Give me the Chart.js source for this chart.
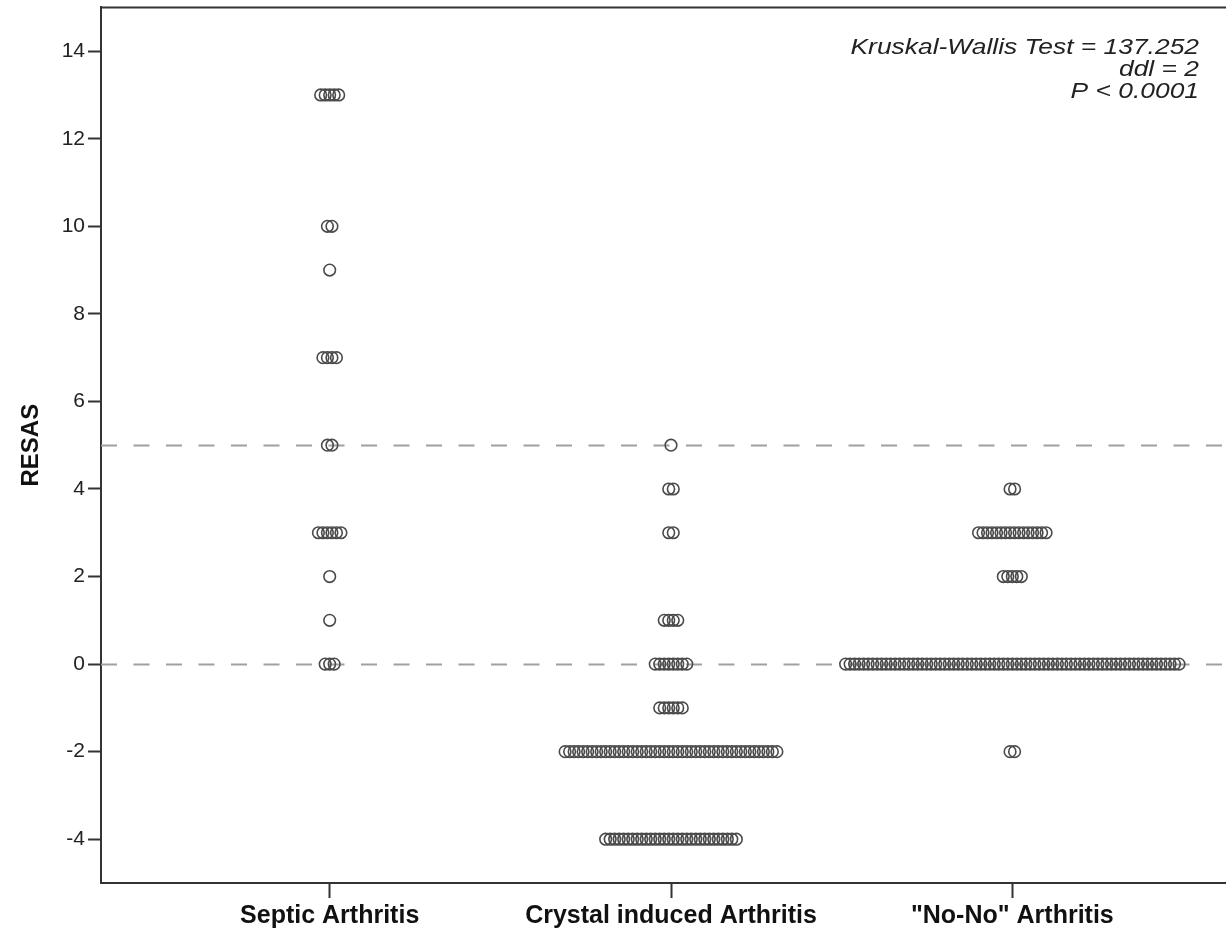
<!DOCTYPE html>
<html>
<head>
<meta charset="utf-8">
<script src="https://cdn.jsdelivr.net/npm/chart.js@4/dist/chart.umd.min.js"></script>
<style>
    html, body { margin: 0; padding: 0; background: #fff; overflow: hidden; }
    #wrap { position: relative; width: 1250px; height: 931px; }
</style>
</head>
<body>
<div id="wrap"><canvas id="dotChart"></canvas></div>
<script>
// Categories and dot counts per RESAS value
const categories = ['Septic Arthritis', 'Crystal induced Arthritis', '"No-No" Arthritis'];
const septicValues = [13, 10, 9, 7, 5, 3, 2, 1, 0];
const septicCounts = [5, 2, 1, 4, 2, 6, 1, 1, 3];
const crystalValues = [5, 4, 3, 1, 0, -1, -2, -4];
const crystalCounts = [1, 2, 2, 4, 8, 6, 48, 30];
const noNoValues = [4, 3, 2, 0, -2];
const noNoCounts = [2, 16, 5, 75, 2];
const yTicks = [-4, -2, 0, 2, 4, 6, 8, 10, 12, 14];
const refLines = [0, 5];
const statLines = ['Kruskal-Wallis Test = 137.252', 'ddl = 2', 'P < 0.0001'];

const axisColor = '#333';
const dotStep = 0.0132; // horizontal spacing of stacked dots, in category units

// Spread equal values side by side around the category centre
function buildDots(catIndex, values, counts) {
    const pts = [];
    values.forEach((v, k) => {
        const n = counts[k];
        for (let i = 0; i < n; i++) {
            pts.push({ x: catIndex + 1 + (i - (n - 1) / 2) * dotStep, y: v });
        }
    });
    return pts;
}

const groups = [
    buildDots(0, septicValues, septicCounts),
    buildDots(1, crystalValues, crystalCounts),
    buildDots(2, noNoValues, noNoCounts)
];

// Dashed reference lines, frame top edge and the test result text
const extras = {
    id: 'extras',
    beforeDatasetsDraw(chart) {
        const { ctx, chartArea: a, scales } = chart;
        ctx.save();
        ctx.strokeStyle = '#a0a0a0';
        ctx.lineWidth = 2;
        ctx.setLineDash([16, 16.5]);
        refLines.forEach(v => {
            const y = Math.round(scales.y.getPixelForValue(v)) + 0.5;
            ctx.beginPath();
            ctx.moveTo(a.left, y);
            ctx.lineTo(a.right, y);
            ctx.stroke();
        });
        ctx.restore();
    },
    afterDraw(chart) {
        const { ctx, chartArea: a } = chart;
        ctx.save();
        ctx.strokeStyle = axisColor;
        ctx.lineWidth = 2;
        ctx.beginPath();
        ctx.moveTo(a.left, a.top);
        ctx.lineTo(a.right, a.top);
        ctx.lineTo(a.right, a.bottom);
        ctx.stroke();

        // text in the source is a little stretched sideways
        ctx.fillStyle = '#222';
        ctx.font = 'italic 22px "Liberation Sans", Arial, sans-serif';
        ctx.textAlign = 'right';
        ctx.textBaseline = 'middle';
        statLines.forEach((t, i) => {
            ctx.save();
            ctx.translate(1199, 48 + i * 22);
            ctx.scale(1.2, 1);
            ctx.fillText(t, 0, 0);
            ctx.restore();
        });
        ctx.restore();
    }
};

new Chart(document.getElementById('dotChart'), {
    type: 'scatter',
    data: {
        datasets: groups.map((pts, i) => ({
            label: categories[i],
            data: pts,
            pointStyle: 'circle',
            pointRadius: 5.8,
            pointBorderWidth: 1.6,
            pointBorderColor: '#4a4a4a',
            pointBackgroundColor: 'rgba(0,0,0,0)'
        }))
    },
    options: {
        responsive: true,
        maintainAspectRatio: false,
        animation: false,
        layout: { padding: { top: 5, right: 9, left: 0, bottom: 0 } },
        plugins: {
            legend: { display: false },
            tooltip: { enabled: false }
        },
        scales: {
            x: {
                type: 'linear',
                min: 0.33,
                max: 3.67,
                afterBuildTicks: (s) => { s.ticks = categories.map((c, i) => ({ value: i + 1 })); },
                afterFit: (s) => { s.height = 48; s.paddingLeft = 0; s.paddingRight = 0; },
                grid: { display: true, drawOnChartArea: false, tickLength: 15, tickColor: axisColor, tickWidth: 2 },
                border: { display: true, color: axisColor, width: 2 },
                ticks: {
                    autoSkip: false,
                    maxRotation: 0,
                    padding: 3,
                    color: '#111',
                    font: { family: '"Liberation Sans", Arial, sans-serif', size: 25, weight: 'bold' },
                    callback: (v) => categories[Math.round(v) - 1]
                }
            },
            y: {
                min: -5,
                max: 15,
                afterBuildTicks: (s) => { s.ticks = yTicks.map(v => ({ value: v })); },
                afterFit: (s) => { s.width = 101; s.paddingTop = 0; s.paddingBottom = 0; },
                grid: { display: true, drawOnChartArea: false, tickLength: 13, tickColor: axisColor, tickWidth: 2 },
                border: { display: true, color: axisColor, width: 2 },
                ticks: {
                    padding: 3,
                    color: '#222',
                    font: { family: '"Liberation Sans", Arial, sans-serif', size: 21 }
                },
                title: {
                    display: true,
                    text: 'RESAS',
                    color: '#111',
                    padding: { top: 17, bottom: 0 },
                    font: { family: '"Liberation Sans", Arial, sans-serif', size: 24, weight: 'bold' }
                }
            }
        }
    },
    plugins: [extras]
});
</script>
</body>
</html>
